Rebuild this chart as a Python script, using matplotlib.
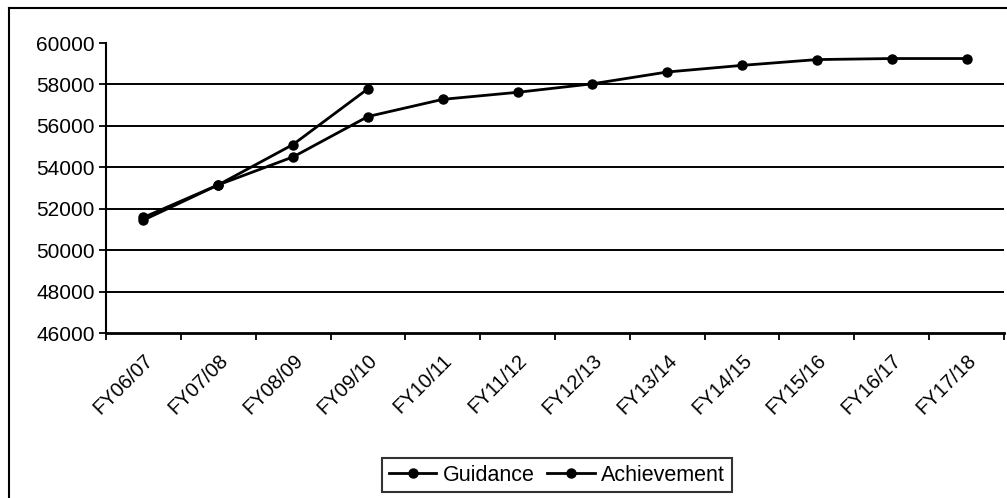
import numpy as np
import matplotlib.pyplot as plt
from matplotlib.lines import Line2D
from matplotlib.ticker import FixedLocator

plt.rcParams['font.family'] = ['Liberation Sans', 'DejaVu Sans']

years = ["FY06/07", "FY07/08", "FY08/09", "FY09/10", "FY10/11", "FY11/12",
         "FY12/13", "FY13/14", "FY14/15", "FY15/16", "FY16/17", "FY17/18"]
guidance = [51450, 53150, 54500, 56450, 57280, 57620,
            58030, 58600, 58920, 59200, 59250, 59250]
achievement = [51580, 53150, 55100, 57790]

fig = plt.figure(figsize=(10.07, 4.98), dpi=100)
W, H = 1007, 498
ax = fig.add_axes([106 / W, 1 - 333 / H, (1004 - 106) / W, (333 - 43) / H])

x = np.arange(len(years))
ax.plot(x, guidance, color="black", lw=2, marker="o", ms=6.5, label="Guidance")
ax.plot(x[:len(achievement)], achievement, color="black", lw=2, marker="o", ms=6.5,
        label="Achievement")

ax.set_xlim(-0.5, len(years) - 0.5)
ax.set_ylim(46000, 60000)
ax.set_yticks(np.arange(46000, 60001, 2000))
for v in range(48000, 60000, 2000):
    ax.axhline(v, color="black", lw=1.4, zorder=0)

# category names sit between the boundary ticks
ax.xaxis.set_major_locator(FixedLocator(np.arange(-0.5, len(years), 1.0)))
ax.xaxis.set_minor_locator(FixedLocator(x))
ax.set_xticklabels([], minor=False)
ax.set_xticklabels(years, minor=True, rotation=45, ha="right",
                   rotation_mode="anchor", fontsize=14.5)
ax.tick_params(axis="x", which="minor", length=0, pad=13)
ax.tick_params(axis="x", which="major", length=5, width=1.3, direction="out")
ax.tick_params(axis="y", length=5, width=1.3, labelsize=15, pad=3)

for s in ["top", "right"]:
    ax.spines[s].set_visible(False)
ax.spines["left"].set_linewidth(1.5)
ax.spines["bottom"].set_linewidth(2)

leg = ax.legend(loc="center", bbox_to_anchor=(557 / W, 1 - 475 / H),
                bbox_transform=fig.transFigure, ncol=2, fontsize=15.5,
                frameon=True, fancybox=False, handlelength=2.2,
                handletextpad=0.3, columnspacing=0.6, borderpad=0.3)
leg.get_frame().set_edgecolor("black")
leg.get_frame().set_linewidth(1.5)

# outer chart border
fig.add_artist(Line2D([9 / W, 9 / W], [0, 1 - 8 / H], transform=fig.transFigure,
                      color="black", lw=1.5))
fig.add_artist(Line2D([9 / W, 1], [1 - 8 / H, 1 - 8 / H], transform=fig.transFigure,
                      color="black", lw=1.5))

fig.savefig("out.png", dpi=100)
